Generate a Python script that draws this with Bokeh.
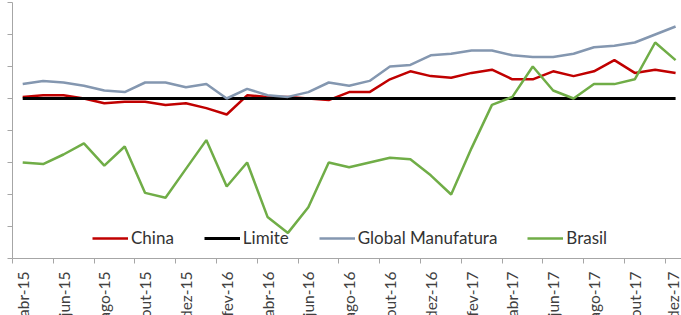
import math
from bokeh.plotting import figure
from bokeh.models import FixedTicker, Range1d
from bokeh.embed import file_html
from bokeh.resources import INLINE

meses = ["abr-15", "mai-15", "jun-15", "jul-15", "ago-15", "set-15", "out-15", "nov-15", "dez-15",
         "jan-16", "fev-16", "mar-16", "abr-16", "mai-16", "jun-16", "jul-16", "ago-16", "set-16",
         "out-16", "nov-16", "dez-16", "jan-17", "fev-17", "mar-17", "abr-17", "mai-17", "jun-17",
         "jul-17", "ago-17", "set-17", "out-17", "nov-17", "dez-17"]
china = [50.1, 50.2, 50.2, 50.0, 49.7, 49.8, 49.8, 49.6, 49.7, 49.4, 49.0, 50.2, 50.1, 50.1, 50.0,
         49.9, 50.4, 50.4, 51.2, 51.7, 51.4, 51.3, 51.6, 51.8, 51.2, 51.2, 51.7, 51.4, 51.7, 52.4,
         51.6, 51.8, 51.6]
limite = [50.0] * 33
global_manufatura = [50.9, 51.1, 51.0, 50.8, 50.5, 50.4, 51.0, 51.0, 50.7, 50.9, 50.0, 50.6, 50.2,
                     50.1, 50.4, 51.0, 50.8, 51.1, 52.0, 52.1, 52.7, 52.8, 53.0, 53.0, 52.7, 52.6,
                     52.6, 52.8, 53.2, 53.3, 53.5, 54.0, 54.5]
brasil = [46.0, 45.9, 46.5, 47.2, 45.8, 47.0, 44.1, 43.8, 45.6, 47.4, 44.5, 46.0, 42.6, 41.6, 43.2,
          46.0, 45.7, 46.0, 46.3, 46.2, 45.2, 44.0, 46.9, 49.6, 50.1, 52.0, 50.5, 50.0, 50.9, 50.9,
          51.2, 53.5, 52.4]
y_ticks = [40, 42, 44, 46, 48, 50, 52, 54, 56]

x = list(range(len(meses)))

p = figure(frame_width=669, frame_height=256, output_backend="svg", toolbar_location=None,
           x_range=Range1d(-0.5, 32.29), y_range=Range1d(40, 56),
           min_border_left=12, min_border_right=0, min_border_top=2, min_border_bottom=0)
p.outline_line_color = None
p.xgrid.visible = False
p.ygrid.visible = False
p.background_fill_color = "white"
p.border_fill_color = "white"

axis_gray = "#a6a6a6"
# y axis: ticks only (the reference shows no y labels)
p.yaxis.ticker = FixedTicker(ticks=[], minor_ticks=y_ticks)
p.yaxis.axis_line_color = axis_gray
p.yaxis.minor_tick_line_color = axis_gray
p.yaxis.minor_tick_out = 5
p.yaxis.minor_tick_in = 0
p.yaxis.major_tick_out = 0
p.yaxis.major_tick_in = 0
p.yaxis.major_label_standoff = 0

even = list(range(0, len(meses), 2))
p.xaxis.ticker = FixedTicker(ticks=even, minor_ticks=[i - 0.5 for i in even])
p.xaxis.major_label_overrides = {i: meses[i] for i in even}
p.xaxis.axis_line_color = axis_gray
p.xaxis.major_tick_out = 0
p.xaxis.major_tick_in = 0
p.xaxis.minor_tick_out = 5
p.xaxis.minor_tick_in = 0
p.xaxis.minor_tick_line_color = axis_gray
p.xaxis.major_label_orientation = math.pi / 2
p.xaxis.major_label_text_font = "Lato"
p.xaxis.major_label_text_font_size = "15.5px"
p.xaxis.major_label_text_color = "#404040"
p.xaxis.major_label_standoff = 8

p.line(x, china, color="#c00000", line_width=2.5, legend_label="China")
p.line(x, limite, color="black", line_width=3, legend_label="Limite")
p.line(x, global_manufatura, color="#8497b0", line_width=2.5, legend_label="Global Manufatura")
p.line(x, brasil, color="#70ad47", line_width=2.5, legend_label="Brasil")

lg = p.legend[0]
lg.orientation = "horizontal"
lg.location = (80, 10)
lg.padding = 0
lg.margin = 0
lg.spacing = 30
lg.glyph_width = 36
lg.glyph_height = 20
lg.label_height = 20
lg.label_standoff = 3
lg.label_text_font = "Lato"
lg.label_text_font_size = "17px"
lg.label_text_color = "#333333"
lg.background_fill_alpha = 0
lg.border_line_color = None

open("out.html", "w").write(file_html(p, INLINE))
